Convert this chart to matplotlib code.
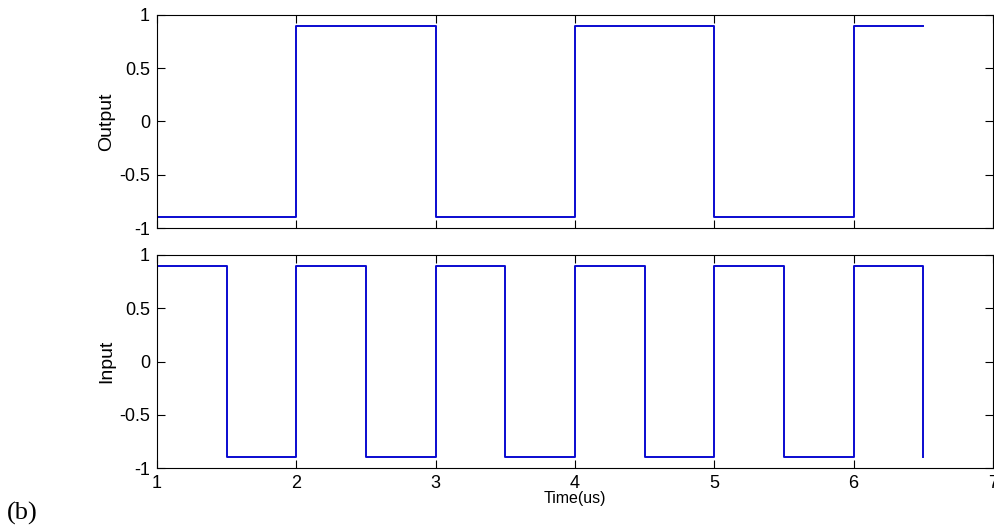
import matplotlib.pyplot as plt
import numpy as np

# breakpoints of the two square waves (time in us, level)
out_t = [1, 2, 2, 3, 3, 4, 4, 5, 5, 6, 6, 6.5]
out_v = [-0.9, -0.9, 0.9, 0.9, -0.9, -0.9, 0.9, 0.9, -0.9, -0.9, 0.9, 0.9]

in_t = [1, 1.5, 1.5, 2, 2, 2.5, 2.5, 3, 3, 3.5, 3.5, 4, 4, 4.5, 4.5, 5,
        5, 5.5, 5.5, 6, 6, 6.5, 6.5]
in_v = [0.9, 0.9, -0.9, -0.9, 0.9, 0.9, -0.9, -0.9, 0.9, 0.9, -0.9, -0.9,
        0.9, 0.9, -0.9, -0.9, 0.9, 0.9, -0.9, -0.9, 0.9, 0.9, -0.9]

x_ticks = [1, 2, 3, 4, 5, 6, 7]
y_ticks = [-1, -0.5, 0, 0.5, 1]
y_ticklabels = ['-1', '-0.5', '0', '0.5', '1']

plt.rcParams['font.family'] = ['Liberation Sans', 'DejaVu Sans']

fig = plt.figure(figsize=(9.94, 5.31), dpi=100)
ax1 = fig.add_axes([0.158, 0.5706, 0.841, 0.4012])
ax2 = fig.add_axes([0.158, 0.1186, 0.841, 0.4012])

line_col = '#0a0ad0'


def style_axis(ax):
    ax.set_xlim(1, 7)
    ax.set_ylim(-1, 1)
    ax.set_xticks(x_ticks)
    ax.set_yticks(y_ticks)
    ax.set_yticklabels(y_ticklabels)
    ax.tick_params(direction='in', length=6, width=0.8, top=True, right=True,
                   labelsize=13, pad=5, colors='black')
    for s in ax.spines.values():
        s.set_linewidth(0.8)
        s.set_color('black')


ax1.plot(out_t, out_v, color=line_col, lw=1.4)
style_axis(ax1)
ax1.set_xticklabels([])
ax1.set_ylabel('Output', fontsize=14, labelpad=3)

ax2.plot(in_t, in_v, color=line_col, lw=1.4)
style_axis(ax2)
ax2.set_xticklabels([str(v) for v in x_ticks])
ax2.set_ylabel('Input', fontsize=14, labelpad=3)
ax2.set_xlabel('Time(us)', fontsize=11.5, labelpad=-1)

fig.text(0.007, 0.022, '(b)', fontsize=19, family=['Liberation Serif', 'DejaVu Serif'])

fig.savefig('out.png', dpi=100)
